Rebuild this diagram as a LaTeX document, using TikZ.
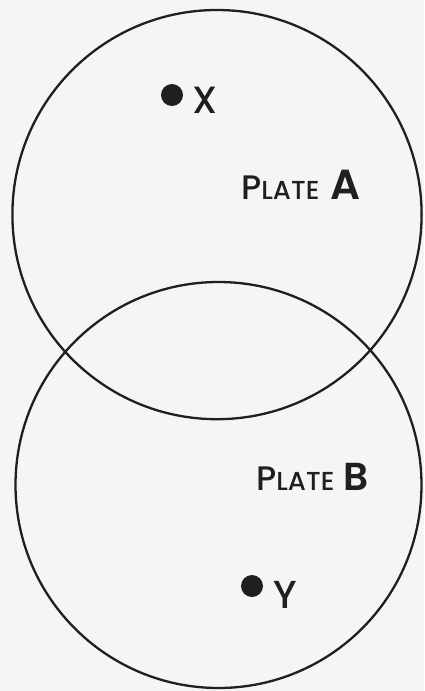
\documentclass[tikz,border=0pt]{standalone}
\usepackage{fontspec}
\setmainfont{Poppins}[UprightFont=* Medium, BoldFont=* SemiBold]
\begin{document}
\begin{tikzpicture}[x=1pt,y=-1pt,
  plate/.style={draw=black!88,line width=2.3pt},
  dotmark/.style={circle,fill=black!88,inner sep=0pt,minimum size=22pt},
  lbl/.style={anchor=base west,inner sep=0pt,text=black!88},
  ]
\useasboundingbox[fill=white!96!black] (0,0) rectangle (424,691);
\draw[plate] (217,214.6) circle (204.6);
\draw[plate] (218.5,485) circle (203);
\node[dotmark] (x) at (172,95) {};
\node[lbl] (xl) at (192,113) {\fontsize{38}{38}\selectfont X};
\node[lbl] (pa) at (241,199) {\fontsize{34}{34}\selectfont P\fontsize{26}{26}\selectfont LATE\hspace{11pt}\fontsize{42}{42}\selectfont\bfseries A};
\node[lbl] (pb) at (256,490) {\fontsize{34}{34}\selectfont P\fontsize{26}{26}\selectfont LATE\hspace{9pt}\fontsize{39}{39}\selectfont\bfseries B};
\node[dotmark] (y) at (252,586) {};
\node[lbl] (yl) at (273,608) {\fontsize{39}{39}\selectfont Y};
\end{tikzpicture}
\end{document}
